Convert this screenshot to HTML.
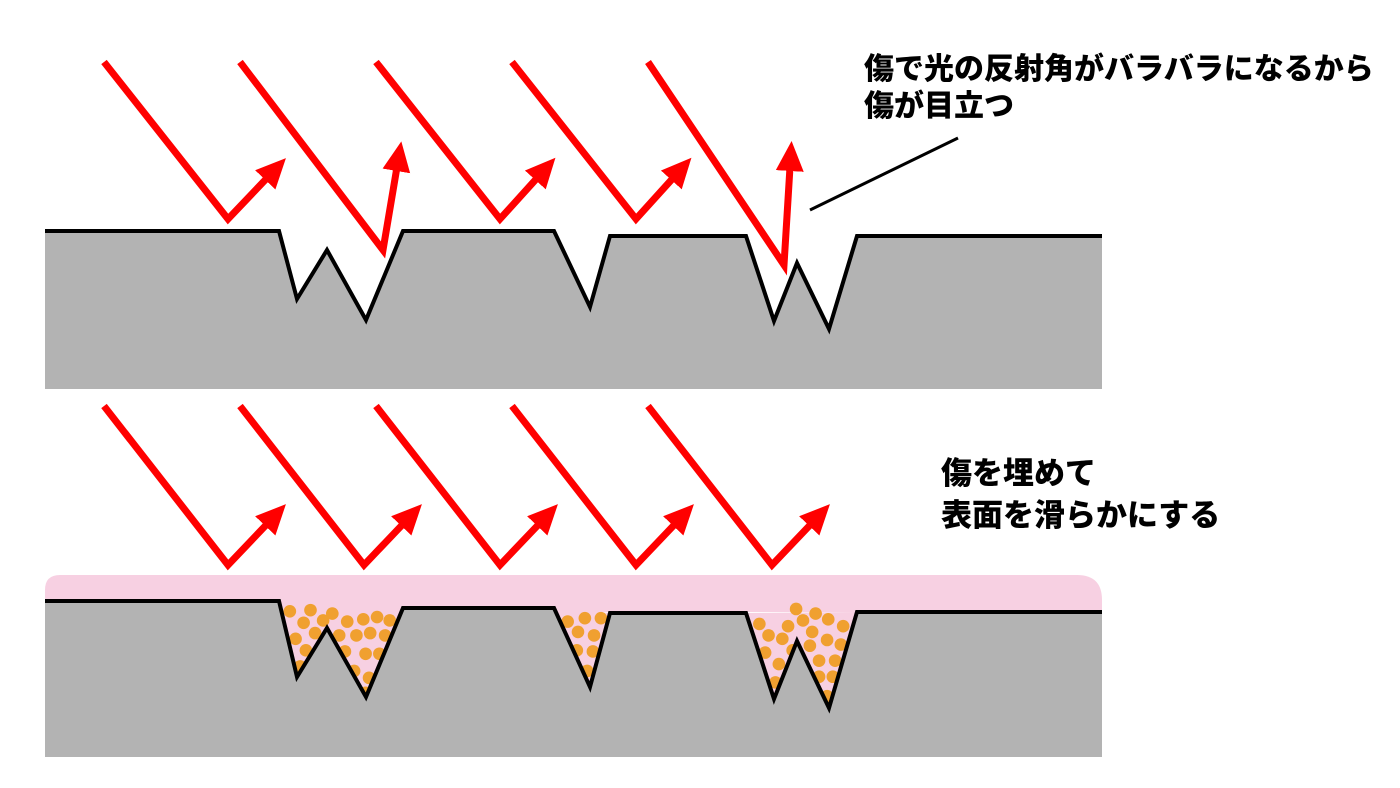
<!DOCTYPE html>
<html><head><meta charset="utf-8"><style>
html,body{margin:0;padding:0;background:#fff}
svg{display:block}
text{font-family:"Noto Sans CJK JP","Liberation Sans",sans-serif;font-weight:900;font-size:30px;fill:#000}
</style></head><body>
<svg width="1400" height="788" viewBox="0 0 1400 788" xmlns="http://www.w3.org/2000/svg">
<defs>
<marker id="ah" markerUnits="userSpaceOnUse" markerWidth="30" markerHeight="30" refX="4" refY="14" orient="auto">
<path d="M0,0 L30,14 L0,28 Z" fill="#ff0000"/>
</marker>
<clipPath id="vc"><path d="M279,590 L279,601 L297,677 L327,628 L366,697 L403,608 L403,590 Z M554,590 L554,608 L590,687 L610,613 L610,590 Z M746,590 L746,613 L774,699 L797,641 L829,708 L857,612 L857,590 Z"/></clipPath>
</defs>
<path d="M45,231 L279,231 L297,299 L327,250 L366,320 L403,231 L554,231 L590,307 L610,236 L746,236 L774,321 L797,263 L829,329 L857,236 L1102,236 L1102,389 L45,389 Z" fill="#b3b3b3"/>
<polyline points="45,231 279,231 297,299 327,250 366,320 403,231 554,231 590,307 610,236 746,236 774,321 797,263 829,329 857,236 1102,236" fill="none" stroke="#000" stroke-width="4"/>
<g fill="none" stroke="#ff0000" stroke-width="7" stroke-linejoin="miter">
<polyline points="104,62 228,219 268,177" marker-end="url(#ah)"/>
<polyline points="240,62 383,250 397,167" marker-end="url(#ah)"/>
<polyline points="376,62 500,219 538,177" marker-end="url(#ah)"/>
<polyline points="512,62 636,219 674,177" marker-end="url(#ah)"/>
<polyline points="648,62 784,265 790,167" marker-end="url(#ah)"/>
</g>
<line x1="810" y1="210" x2="958" y2="138" stroke="#000" stroke-width="3"/>
<text x="864" y="79">傷で光の反射角がバラバラになるから</text>
<text x="864" y="116">傷が目立つ</text>

<path d="M45,612 L45,590 Q45,575 60,575 L1077,575 Q1102,575 1102,600 L1102,612 Z" fill="#f7d0e2"/>
<path d="M45,601 L279,601 L297,677 L327,628 L366,697 L403,608 L554,608 L590,687 L610,613 L746,613 L774,699 L797,641 L829,708 L857,612 L1102,612 L1102,757 L45,757 Z" fill="#b3b3b3"/>
<path d="M279,601 L297,677 L327,628 L366,697 L403,608 Z M554,608 L590,687 L610,613 Z M746,613 L774,699 L797,641 L829,708 L857,612 Z" fill="#f7d0e2"/>
<g clip-path="url(#vc)">
<g fill="#f0a030" transform="matrix(1.148,0,0,1.148,-38.5,-84.4)">
<circle cx="286" cy="606" r="5.5"/><circle cx="304" cy="605" r="5.5"/><circle cx="298" cy="616" r="5.5"/><circle cx="315" cy="614" r="5.5"/><circle cx="323" cy="608" r="5.5"/>
<circle cx="291" cy="630" r="5.5"/><circle cx="308" cy="625" r="5.5"/><circle cx="300" cy="640" r="5.5"/><circle cx="295" cy="654" r="5.5"/>
<circle cx="336" cy="615" r="5.5"/><circle cx="350" cy="613" r="5.5"/><circle cx="362" cy="611" r="5.5"/><circle cx="373" cy="614" r="5.5"/>
<circle cx="329" cy="627" r="5.5"/><circle cx="344" cy="627" r="5.5"/><circle cx="356" cy="625" r="5.5"/><circle cx="369" cy="627" r="5.5"/>
<circle cx="334" cy="641" r="5.5"/><circle cx="352" cy="643" r="5.5"/><circle cx="364" cy="643" r="5.5"/>
<circle cx="342" cy="658" r="5.5"/><circle cx="355" cy="664" r="5.5"/><circle cx="352" cy="677" r="5.5"/>
<circle cx="528" cy="615" r="5.5"/><circle cx="543" cy="612" r="5.5"/><circle cx="557" cy="612" r="5.5"/>
<circle cx="537" cy="624" r="5.5"/><circle cx="551" cy="627" r="5.5"/><circle cx="536" cy="640" r="5.5"/><circle cx="550" cy="641" r="5.5"/><circle cx="545" cy="658" r="5.5"/>
<circle cx="695" cy="617" r="5.5"/><circle cx="703" cy="627" r="5.5"/><circle cx="700" cy="642" r="5.5"/><circle cx="712" cy="652" r="5.5"/><circle cx="709" cy="668" r="5.5"/>
<circle cx="720" cy="619" r="5.5"/><circle cx="715" cy="630" r="5.5"/><circle cx="724" cy="640" r="5.5"/><circle cx="727" cy="604" r="5.5"/>
<circle cx="733" cy="614" r="5.5"/><circle cx="744" cy="608" r="5.5"/><circle cx="755" cy="613" r="5.5"/><circle cx="768" cy="619" r="5.5"/>
<circle cx="741" cy="624" r="5.5"/><circle cx="754" cy="631" r="5.5"/><circle cx="739" cy="636" r="5.5"/><circle cx="766" cy="635" r="5.5"/>
<circle cx="747" cy="649" r="5.5"/><circle cx="761" cy="649" r="5.5"/><circle cx="747" cy="663" r="5.5"/><circle cx="759" cy="663" r="5.5"/><circle cx="754" cy="680" r="5.5"/>
</g>
</g>
<polyline points="45,601 279,601 297,677 327,628 366,697 403,608 554,608 590,687 610,613 746,613 774,699 797,641 829,708 857,612 1102,612" fill="none" stroke="#000" stroke-width="4"/>
<g fill="none" stroke="#ff0000" stroke-width="7">
<polyline points="104,406 228,565 268,523" marker-end="url(#ah)"/>
<polyline points="240,406 364,565 404,523" marker-end="url(#ah)"/>
<polyline points="376,406 500,565 540,523" marker-end="url(#ah)"/>
<polyline points="512,406 636,565 676,523" marker-end="url(#ah)"/>
<polyline points="648,406 772,565 812,523" marker-end="url(#ah)"/>
</g>
<text x="941" y="484" style="font-size:31px">傷を埋めて</text>
<text x="941" y="526" style="font-size:31px">表面を滑らかにする</text>
</svg>
</body></html>
